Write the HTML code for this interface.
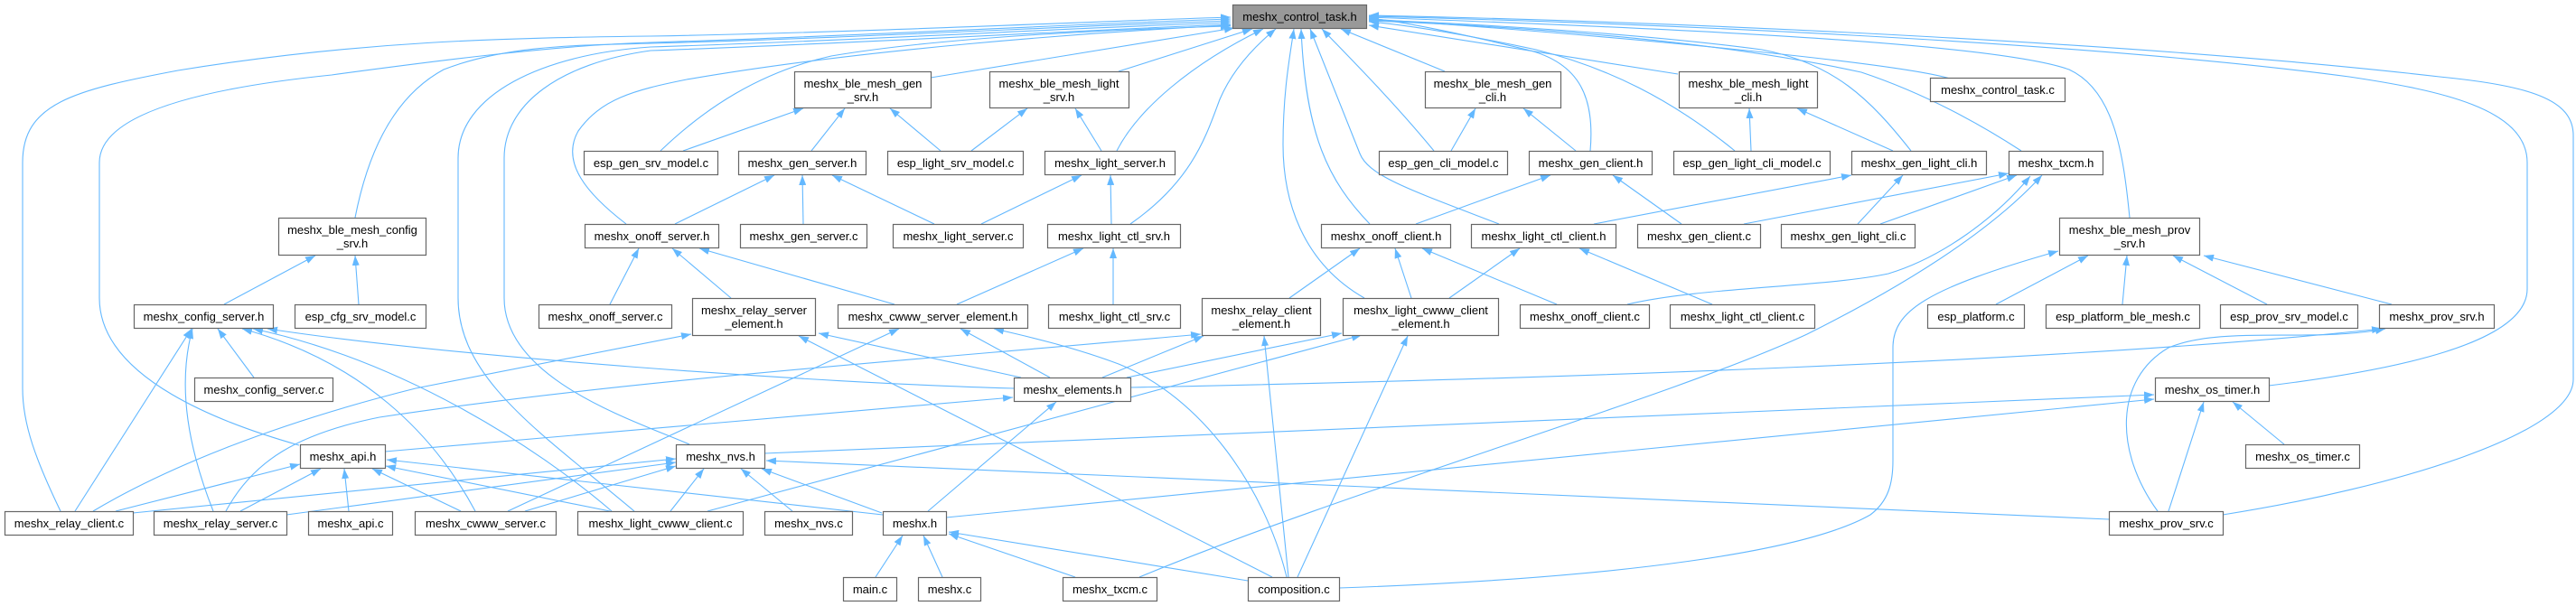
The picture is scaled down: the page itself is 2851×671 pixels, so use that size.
<!DOCTYPE html>
<html><head><meta charset="utf-8"><style>
html,body{margin:0;padding:0;background:#fff;}
body{width:2851px;height:671px;overflow:hidden;}
svg{display:block;}
text{font-family:"Liberation Sans",Arial,sans-serif;font-size:13px;fill:#000;text-anchor:middle;}
.n rect{fill:#fff;stroke:#666;stroke-width:1.2;}
.e path{fill:none;stroke:#63b8ff;stroke-width:1.1;marker-end:url(#a);}
</style></head><body>
<svg width="2851" height="671" viewBox="0 0 2851 671" xmlns="http://www.w3.org/2000/svg">
<defs><marker id="a" markerUnits="userSpaceOnUse" markerWidth="11" markerHeight="8" viewBox="0 0 11 8" refX="11" refY="4" orient="auto"><path d="M0,0 L11,4 L0,8 z" fill="#63b8ff"/></marker></defs>
<g class="e">
<path d="M67,566 C40,510 25,470 25,430 L25,180 C25,115 80,100 197,78 C400,45 560,42 720,40 C950,36 1200,24 1362,19"/>
<path d="M331,493 C250,470 110,420 110,330 L110,180 C110,120 250,95 367,83 C500,65 620,50 720,47 C950,40 1200,26 1362,21"/>
<path d="M393,241 C405,180 430,110 491,77 C560,50 640,50 720,48 C950,42 1200,28 1362,23"/>
<path d="M702,566 C600,480 507,420 507,330 L507,175 C507,105 600,60 720,52 C950,45 1200,30 1362,25"/>
<path d="M763,492 C700,465 558,420 558,330 L558,175 C558,115 620,70 720,56 C950,48 1200,33 1362,27"/>
<path d="M693,248 C650,215 620,180 640,145 C665,110 700,100 760,88 C950,55 1200,36 1362,28"/>
<path d="M731,167 C780,120 840,80 920,62 C1050,40 1250,32 1362,29"/>
<path d="M1030,86 L1366,31"/>
<path d="M1238,79 L1386,32"/>
<path d="M1236,167 C1260,120 1320,70 1398,32"/>
<path d="M1251,248 C1320,200 1335,150 1350,110 C1365,75 1390,50 1412,32"/>
<path d="M1516,248 C1470,200 1445,150 1440,32"/>
<path d="M1510,330 C1440,290 1420,220 1420,160 C1420,100 1428,60 1432,32"/>
<path d="M1659,248 C1560,210 1515,195 1505,170 L1450,32"/>
<path d="M1587,167 C1540,110 1490,60 1463,32"/>
<path d="M1599,79 L1484,32"/>
<path d="M1760,167 C1765,110 1750,70 1690,55 C1620,38 1560,25 1515,20"/>
<path d="M1920,167 C1850,110 1780,75 1700,55 C1620,38 1560,28 1515,24"/>
<path d="M1857,82 L1515,28"/>
<path d="M2115,167 C2070,110 2030,70 1950,55 C1800,35 1600,25 1515,22"/>
<path d="M2158,87 C2100,70 1800,40 1515,21"/>
<path d="M2237,167 C2180,130 2120,100 2060,80 C1900,45 1700,30 1515,23"/>
<path d="M2357,241 C2350,170 2340,100 2290,77 C2200,45 1800,30 1515,19"/>
<path d="M2511,427 C2650,410 2797,380 2797,320 L2797,180 C2797,120 2700,100 2600,85 C2300,45 1800,25 1515,18"/>
<path d="M2460,570 C2650,540 2848,480 2848,420 L2848,150 C2848,110 2800,95 2700,85 C2400,50 1900,25 1515,17"/>
<path d="M248,337 L349,283"/>
<path d="M397,337 L393,283"/>
<path d="M83,566 L212,364"/>
<path d="M236,566 C210,500 195,430 213,364"/>
<path d="M281,418 L241,364"/>
<path d="M526,566 C480,480 400,400 268,364"/>
<path d="M677,566 C600,500 450,400 280,364"/>
<path d="M1122,430 C900,424 500,395 296,364"/>
<path d="M128,566 L332,514"/>
<path d="M266,566 L355,519"/>
<path d="M386,566 L381,519"/>
<path d="M510,566 L412,519"/>
<path d="M675,566 L427,516"/>
<path d="M977,570 L428,509"/>
<path d="M426,500 L1121,440"/>
<path d="M103,566 C180,520 300,470 460,430 L765,370"/>
<path d="M250,566 C280,510 330,480 420,462 C700,420 1000,400 1329,370"/>
<path d="M147,568 L748,508"/>
<path d="M317,570 L748,512"/>
<path d="M581,566 L748,516"/>
<path d="M742,566 L779,519"/>
<path d="M877,566 L820,519"/>
<path d="M976,568 L843,519"/>
<path d="M2334,575 L848,510"/>
<path d="M562,566 L995,364"/>
<path d="M846,502 L2384,437"/>
<path d="M1047,573 L2384,442"/>
<path d="M1251,429 C1700,420 2300,400 2636,364"/>
<path d="M2388,566 C2340,500 2340,420 2400,385 C2460,360 2560,380 2640,364"/>
<path d="M1247,418 L1485,369"/>
<path d="M783,566 L1507,371"/>
<path d="M1220,418 L1332,372"/>
<path d="M1162,418 L1063,364"/>
<path d="M1130,418 L906,369"/>
<path d="M1027,566 L1169,445"/>
<path d="M969,639 L999,593"/>
<path d="M1043,639 L1022,593"/>
<path d="M1190,639 L1050,591"/>
<path d="M1381,643 L1050,589"/>
<path d="M1408,639 L884,372"/>
<path d="M1424,639 C1400,540 1330,440 1238,403 C1190,385 1140,373 1100,364"/>
<path d="M1426,639 L1399,372"/>
<path d="M1436,639 L1558,372"/>
<path d="M1482,651 C1800,640 2000,610 2070,570 C2090,555 2095,535 2095,510 L2095,385 C2095,345 2130,320 2278,278"/>
<path d="M1261,639 C1500,540 1850,440 2000,370 C2100,320 2200,260 2260,194"/>
<path d="M1801,337 C1880,318 2020,318 2090,303 C2150,285 2210,240 2247,195"/>
<path d="M1930,248 L2223,192"/>
<path d="M2081,248 L2232,194"/>
<path d="M756,167 L889,120"/>
<path d="M898,167 L935,120"/>
<path d="M1041,167 L985,120"/>
<path d="M1075,167 L1137,120"/>
<path d="M1219,167 L1190,120"/>
<path d="M747,248 L857,194"/>
<path d="M889,248 L888,194"/>
<path d="M1034,248 L921,194"/>
<path d="M1086,248 L1197,194"/>
<path d="M1230,248 L1229,194"/>
<path d="M675,337 L707,275"/>
<path d="M809,330 L744,275"/>
<path d="M990,337 L774,275"/>
<path d="M1059,337 L1199,275"/>
<path d="M1232,337 L1232,275"/>
<path d="M1606,167 L1633,120"/>
<path d="M1744,167 L1686,120"/>
<path d="M1938,167 L1936,120"/>
<path d="M2095,167 L1989,120"/>
<path d="M1567,248 L1716,194"/>
<path d="M1861,248 L1785,194"/>
<path d="M1764,248 L2049,194"/>
<path d="M2056,248 L2106,194"/>
<path d="M1427,330 L1505,275"/>
<path d="M1562,330 L1544,275"/>
<path d="M1723,337 L1574,275"/>
<path d="M1604,330 L1682,275"/>
<path d="M1895,337 L1748,275"/>
<path d="M2209,337 L2311,283"/>
<path d="M2349,337 L2354,283"/>
<path d="M2509,337 L2405,283"/>
<path d="M2647,337 L2439,283"/>
<path d="M2400,566 L2439,445"/>
<path d="M2528,492 L2471,445"/>
</g>
<g class="n">
<rect x="1364.5" y="5.5" width="148" height="26" style="fill:#999"/><text x="1438.5" y="23">meshx_control_task.h</text>
<rect x="879.5" y="79.5" width="151" height="40"/><text x="955" y="97">meshx_ble_mesh_gen</text><text x="955" y="112">_srv.h</text>
<rect x="1095.5" y="79.5" width="154" height="40"/><text x="1172" y="97">meshx_ble_mesh_light</text><text x="1172" y="112">_srv.h</text>
<rect x="1577.5" y="79.5" width="150" height="40"/><text x="1652" y="97">meshx_ble_mesh_gen</text><text x="1652" y="112">_cli.h</text>
<rect x="1858.5" y="79.5" width="153" height="40"/><text x="1935" y="97">meshx_ble_mesh_light</text><text x="1935" y="112">_cli.h</text>
<rect x="2136.5" y="86.5" width="149" height="26"/><text x="2211" y="104">meshx_control_task.c</text>
<rect x="646.5" y="167.5" width="148" height="26"/><text x="720.5" y="185">esp_gen_srv_model.c</text>
<rect x="817.5" y="167.5" width="141" height="26"/><text x="888" y="185">meshx_gen_server.h</text>
<rect x="982.5" y="167.5" width="150" height="26"/><text x="1057.5" y="185">esp_light_srv_model.c</text>
<rect x="1156.5" y="167.5" width="144" height="26"/><text x="1228.5" y="185">meshx_light_server.h</text>
<rect x="1526.5" y="167.5" width="142" height="26"/><text x="1597.5" y="185">esp_gen_cli_model.c</text>
<rect x="1692.5" y="167.5" width="136" height="26"/><text x="1760.5" y="185">meshx_gen_client.h</text>
<rect x="1852.5" y="167.5" width="173" height="26"/><text x="1939" y="185">esp_gen_light_cli_model.c</text>
<rect x="2049.5" y="167.5" width="149" height="26"/><text x="2124" y="185">meshx_gen_light_cli.h</text>
<rect x="2223.5" y="167.5" width="104" height="26"/><text x="2275.5" y="185">meshx_txcm.h</text>
<rect x="308.5" y="241.5" width="163" height="41"/><text x="390" y="259">meshx_ble_mesh_config</text><text x="390" y="274">_srv.h</text>
<rect x="647.5" y="248.5" width="148" height="26"/><text x="721.5" y="266">meshx_onoff_server.h</text>
<rect x="819.5" y="248.5" width="140" height="26"/><text x="889.5" y="266">meshx_gen_server.c</text>
<rect x="988.5" y="248.5" width="144" height="26"/><text x="1060.5" y="266">meshx_light_server.c</text>
<rect x="1159.5" y="248.5" width="147" height="26"/><text x="1233" y="266">meshx_light_ctl_srv.h</text>
<rect x="1462.5" y="248.5" width="143" height="26"/><text x="1534" y="266">meshx_onoff_client.h</text>
<rect x="1628.5" y="248.5" width="160" height="26"/><text x="1708.5" y="266">meshx_light_ctl_client.h</text>
<rect x="1812.5" y="248.5" width="136" height="26"/><text x="1880.5" y="266">meshx_gen_client.c</text>
<rect x="1971.5" y="248.5" width="148" height="26"/><text x="2045.5" y="266">meshx_gen_light_cli.c</text>
<rect x="2279.5" y="241.5" width="155" height="41"/><text x="2357" y="259">meshx_ble_mesh_prov</text><text x="2357" y="274">_srv.h</text>
<rect x="148.5" y="337.5" width="154" height="26"/><text x="225.5" y="355">meshx_config_server.h</text>
<rect x="326.5" y="337.5" width="145" height="26"/><text x="399" y="355">esp_cfg_srv_model.c</text>
<rect x="596.5" y="337.5" width="147" height="26"/><text x="670" y="355">meshx_onoff_server.c</text>
<rect x="766.5" y="330.5" width="136" height="41"/><text x="834.5" y="348">meshx_relay_server</text><text x="834.5" y="363">_element.h</text>
<rect x="927.5" y="337.5" width="210" height="26"/><text x="1032.5" y="355">meshx_cwww_server_element.h</text>
<rect x="1160.5" y="337.5" width="146" height="26"/><text x="1233.5" y="355">meshx_light_ctl_srv.c</text>
<rect x="1330.5" y="330.5" width="131" height="41"/><text x="1396" y="348">meshx_relay_client</text><text x="1396" y="363">_element.h</text>
<rect x="1486.5" y="330.5" width="172" height="41"/><text x="1572.5" y="348">meshx_light_cwww_client</text><text x="1572.5" y="363">_element.h</text>
<rect x="1682.5" y="337.5" width="143" height="26"/><text x="1754" y="355">meshx_onoff_client.c</text>
<rect x="1848.5" y="337.5" width="160" height="26"/><text x="1928.5" y="355">meshx_light_ctl_client.c</text>
<rect x="2133.5" y="337.5" width="107" height="26"/><text x="2187" y="355">esp_platform.c</text>
<rect x="2264.5" y="337.5" width="170" height="26"/><text x="2349.5" y="355">esp_platform_ble_mesh.c</text>
<rect x="2457.5" y="337.5" width="152" height="26"/><text x="2533.5" y="355">esp_prov_srv_model.c</text>
<rect x="2633.5" y="337.5" width="127" height="26"/><text x="2697" y="355">meshx_prov_srv.h</text>
<rect x="215.5" y="418.5" width="153" height="26"/><text x="292" y="436">meshx_config_server.c</text>
<rect x="1122.5" y="418.5" width="129" height="26"/><text x="1187" y="436">meshx_elements.h</text>
<rect x="2385.5" y="418.5" width="126" height="26"/><text x="2448.5" y="436">meshx_os_timer.h</text>
<rect x="332.5" y="492.5" width="94" height="26"/><text x="379.5" y="510">meshx_api.h</text>
<rect x="748.5" y="492.5" width="98" height="26"/><text x="797.5" y="510">meshx_nvs.h</text>
<rect x="2485.5" y="492.5" width="126" height="26"/><text x="2548.5" y="510">meshx_os_timer.c</text>
<rect x="5.5" y="566.5" width="142" height="26"/><text x="76.5" y="584">meshx_relay_client.c</text>
<rect x="170.5" y="566.5" width="147" height="26"/><text x="244" y="584">meshx_relay_server.c</text>
<rect x="341.5" y="566.5" width="93" height="26"/><text x="388" y="584">meshx_api.c</text>
<rect x="459.5" y="566.5" width="156" height="26"/><text x="537.5" y="584">meshx_cwww_server.c</text>
<rect x="639.5" y="566.5" width="183" height="26"/><text x="731" y="584">meshx_light_cwww_client.c</text>
<rect x="846.5" y="566.5" width="97" height="26"/><text x="895" y="584">meshx_nvs.c</text>
<rect x="977.5" y="566.5" width="70" height="26"/><text x="1012.5" y="584">meshx.h</text>
<rect x="2334.5" y="566.5" width="126" height="26"/><text x="2397.5" y="584">meshx_prov_srv.c</text>
<rect x="933.5" y="639.5" width="59" height="26"/><text x="963" y="657">main.c</text>
<rect x="1016.5" y="639.5" width="69" height="26"/><text x="1051" y="657">meshx.c</text>
<rect x="1176.5" y="639.5" width="104" height="26"/><text x="1228.5" y="657">meshx_txcm.c</text>
<rect x="1381.5" y="639.5" width="101" height="26"/><text x="1432" y="657">composition.c</text>
</g>
</svg>
</body></html>
